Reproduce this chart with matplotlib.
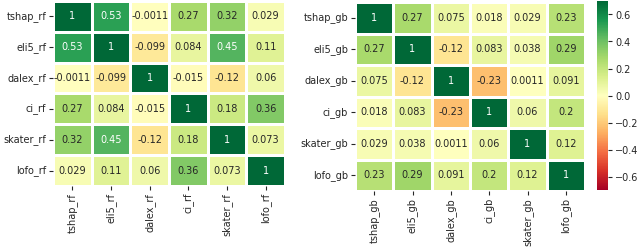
import matplotlib
matplotlib.use("Agg")
import matplotlib.pyplot as plt
import seaborn as sns
import numpy as np

labels_rf = ["tshap_rf", "eli5_rf", "dalex_rf", "ci_rf", "skater_rf", "lofo_rf"]
labels_gb = ["tshap_gb", "eli5_gb", "dalex_gb", "ci_gb", "skater_gb", "lofo_gb"]

corr_rf = [
    [1, 0.53, -0.0011, 0.27, 0.32, 0.029],
    [0.53, 1, -0.099, 0.084, 0.45, 0.11],
    [-0.0011, -0.099, 1, -0.015, -0.12, 0.06],
    [0.27, 0.084, -0.015, 1, 0.18, 0.36],
    [0.32, 0.45, -0.12, 0.18, 1, 0.073],
    [0.029, 0.11, 0.06, 0.36, 0.073, 1],
]
corr_gb = [
    [1, 0.27, 0.075, 0.018, 0.029, 0.23],
    [0.27, 1, -0.12, 0.083, 0.038, 0.29],
    [0.075, -0.12, 1, -0.23, 0.0011, 0.091],
    [0.018, 0.083, -0.23, 1, 0.06, 0.2],
    [0.029, 0.038, 0.0011, 0.06, 1, 0.12],
    [0.23, 0.29, 0.091, 0.2, 0.12, 1],
]
cbar_ticks = [-0.6, -0.4, -0.2, 0.0, 0.2, 0.4, 0.6]

plt.rcParams['font.family'] = ['DejaVu Sans']
plt.rcParams['text.color'] = '#262626'
plt.rcParams['xtick.color'] = '#262626'
plt.rcParams['ytick.color'] = '#262626'
plt.rcParams['xtick.major.size'] = 3
plt.rcParams['ytick.major.size'] = 3

W, H = 640, 247
fig = plt.figure(figsize=(6.4, 2.47), dpi=100)
ax1 = fig.add_axes([53 / W, 1 - 186 / H, 232 / W, 185 / H])
ax2 = fig.add_axes([355 / W, 1 - 191 / H, 230 / W, 189 / H])
cax = fig.add_axes([597 / W, 1 - 190 / H, 11 / W, 189 / H])

kw = dict(cmap="RdYlGn", vmin=-0.7, vmax=0.7, annot=True, fmt=".2g",
          linewidths=1, linecolor="white", annot_kws={"fontsize": 7})
sns.heatmap(np.array(corr_rf), ax=ax1, cbar=False,
            xticklabels=labels_rf, yticklabels=labels_rf, **kw)
sns.heatmap(np.array(corr_gb), ax=ax2, cbar_ax=cax,
            xticklabels=labels_gb, yticklabels=labels_gb, **kw)

for ax in (ax1, ax2):
    ax.tick_params(labelsize=7, pad=2)
    plt.setp(ax.get_xticklabels(), rotation=90)
    plt.setp(ax.get_yticklabels(), rotation=0)

cax.set_yticks(cbar_ticks)
cax.tick_params(labelsize=7, pad=2)
for s in cax.spines.values():
    s.set_visible(False)

fig.savefig("out.png", dpi=100)
